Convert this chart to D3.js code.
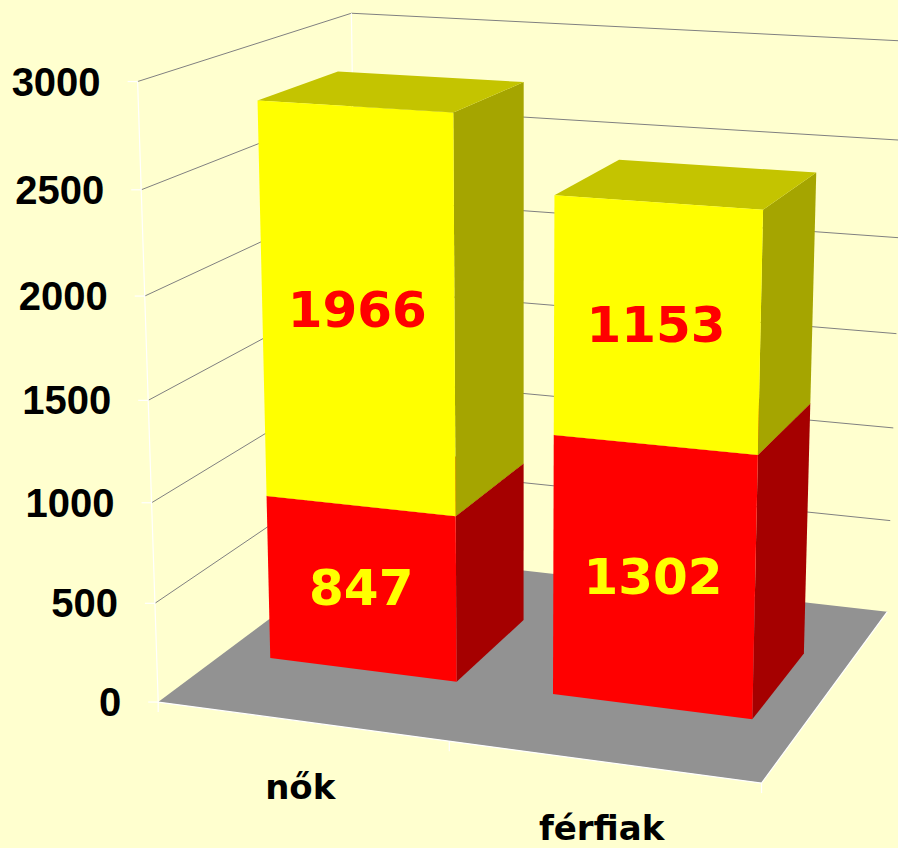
<!DOCTYPE html>
<html>
<head>
<meta charset="utf-8">
<script src="https://cdn.jsdelivr.net/npm/d3@7/dist/d3.min.js"></script>
<style>
  body { margin: 0; background: #FFFFCF; }
  svg { display: block; }
</style>
</head>
<body>
<svg id="chart" width="898" height="848"></svg>
<script>
// --- data ---
const categories = ['nők', 'férfiak'];
const lowerValues = [847, 1302];   // red segment
const upperValues = [1966, 1153];  // yellow segment
const yTicks = [0, 500, 1000, 1500, 2000, 2500, 3000];
const yMax = 3000;

// camera anchors: frame box corners (world [x, h, z]) -> screen
const frameAnchors = [
  [[0, 0, 0], [158, 702]],
  [[0, 1/6, 0], [155, 603]],
  [[0, 1/3, 0], [152, 503]],
  [[0, 1/2, 0], [148, 400]],
  [[0, 2/3, 0], [145, 296]],
  [[0, 5/6, 0], [141, 190]],
  [[0, 1, 0], [137, 82]],
  [[0, 1, 1], [352, 13]],
  [[0, 0, 1], [359, 552]],
  [[1, 0, 0], [762, 783]],
  [[1, 0, 1], [887, 612]],
  [[1, 1, 1], [906, 41]]
];

// DLT: least squares for 3x4 projection (p11 = 1)
function solveCamera(pairs) {
  const n = 11;
  const M = Array.from({length: n}, () => new Array(n).fill(0));
  const r = new Array(n).fill(0);
  const addRow = (row, b) => {
    for (let i = 0; i < n; i++) {
      r[i] += row[i] * b;
      for (let j = 0; j < n; j++) M[i][j] += row[i] * row[j];
    }
  };
  pairs.forEach(([w, s]) => {
    const [X, Y, Z] = w, [u, v] = s;
    addRow([X, Y, Z, 1, 0, 0, 0, 0, -u*X, -u*Y, -u*Z], u);
    addRow([0, 0, 0, 0, X, Y, Z, 1, -v*X, -v*Y, -v*Z], v);
  });
  for (let c = 0; c < n; c++) {
    let piv = c;
    for (let i = c + 1; i < n; i++) if (Math.abs(M[i][c]) > Math.abs(M[piv][c])) piv = i;
    [M[c], M[piv]] = [M[piv], M[c]]; [r[c], r[piv]] = [r[piv], r[c]];
    for (let i = 0; i < n; i++) {
      if (i === c) continue;
      const f = M[i][c] / M[c][c];
      for (let j = c; j < n; j++) M[i][j] -= f * M[c][j];
      r[i] -= f * r[c];
    }
  }
  return r.map((v, i) => v / M[i][i]);
}
const P = solveCamera(frameAnchors);

function project(X, h, Z) {
  const w = P[8]*X + P[9]*h + P[10]*Z + 1;
  return [(P[0]*X + P[1]*h + P[2]*Z + P[3]) / w, (P[4]*X + P[5]*h + P[6]*Z + P[7]) / w];
}

// --- scales ---
// gap width 50%: bars take 2/3 of each category slot
const x = d3.scaleBand().domain(categories).range([0, 1]).paddingInner(1/3).paddingOuter(1/6);
const y = d3.scaleLinear().domain([0, yMax]).range([0, 1]);
const zFront = 0.3, zBack = 0.69;

const svg = d3.select('#chart');
svg.append('rect').attr('width', 898).attr('height', 848).attr('fill', '#FFFFCF');

const line = d3.line();
const poly = pts => line(pts) + 'Z';

// gridlines on left and back walls
const grid = svg.append('g').attr('fill', 'none').attr('stroke', '#808080').attr('stroke-width', 1);
yTicks.filter(t => t > 0).forEach(t => {
  grid.append('path').attr('d', line([project(0, y(t), 0), project(0, y(t), 1), project(1, y(t), 1)]));
});

// floor
svg.append('path')
  .attr('d', poly([project(0, 0, 0), project(1, 0, 0), project(1, 0, 1), project(0, 0, 1)]))
  .attr('fill', '#929292');

// wall edges, floor rim, ticks (white)
const edges = svg.append('g').attr('stroke', '#FFFFFF').attr('stroke-width', 1.2).attr('fill', 'none');
edges.append('path').attr('d', line([project(0, 0, 0), project(0, 1, 0)]));
edges.append('path').attr('d', line([project(0, 0, 1), project(0, 1, 1)]));
edges.append('path').attr('d', line([project(0, 0, 0), project(1, 0, 0), project(1, 0, 1)]));

// y ticks + labels
yTicks.forEach(t => {
  const p = project(0, y(t), 0);
  edges.append('path').attr('d', line([[p[0] - 10, p[1]], p]));
  svg.append('text')
    .attr('x', p[0] - 37).attr('y', p[1])
    .attr('text-anchor', 'end').attr('dominant-baseline', 'central')
    .attr('font-family', 'Liberation Sans, Arial, sans-serif').attr('font-weight', 'bold')
    .attr('font-size', 40).attr('fill', '#000')
    .text(t);
});
// category ticks
[0, 0.5, 1].forEach(t => {
  const p = project(t, 0, 0);
  edges.append('path').attr('d', line([p, [p[0], p[1] + 10]]));
});

// bars
const segColors = [
  {front: '#FF0000', side: '#A50000', top: '#C40000', label: '#FFFF00'},
  {front: '#FFFF00', side: '#A5A500', top: '#C4C400', label: '#FF0000'}
];
const barsG = svg.append('g');
const labelsG = svg.append('g');
categories.forEach((c, i) => {
  const x0 = x(c), x1 = x(c) + x.bandwidth();
  const segs = [[0, lowerValues[i]], [lowerValues[i], lowerValues[i] + upperValues[i]]];
  segs.forEach(([v0, v1], k) => {
    const h0 = y(v0), h1 = y(v1), col = segColors[k];
    barsG.append('path').attr('fill', col.side)
      .attr('d', poly([project(x1, h0, zFront), project(x1, h0, zBack), project(x1, h1, zBack), project(x1, h1, zFront)]));
    barsG.append('path').attr('fill', col.top)
      .attr('d', poly([project(x0, h1, zFront), project(x1, h1, zFront), project(x1, h1, zBack), project(x0, h1, zBack)]));
    barsG.append('path').attr('fill', col.front)
      .attr('d', poly([project(x0, h0, zFront), project(x1, h0, zFront), project(x1, h1, zFront), project(x0, h1, zFront)]));
    const lp = project((x0 + x1) / 2, (h0 + h1) / 2, zFront);
    labelsG.append('text')
      .attr('x', lp[0]).attr('y', lp[1])
      .attr('text-anchor', 'middle').attr('dominant-baseline', 'central')
      .attr('font-family', 'DejaVu Sans, Verdana, sans-serif').attr('font-weight', 'bold')
      .attr('font-size', 50).attr('fill', col.label)
      .text(v1 - v0);
  });
  const cp = project((x0 + x1) / 2, 0, 0);
  svg.append('text')
    .attr('x', cp[0] - 1).attr('y', cp[1] + 78)
    .attr('text-anchor', 'middle')
    .attr('font-family', 'DejaVu Sans, Verdana, sans-serif').attr('font-weight', 'bold')
    .attr('font-size', 34).attr('fill', '#000')
    .text(c);
});
</script>
</body>
</html>
